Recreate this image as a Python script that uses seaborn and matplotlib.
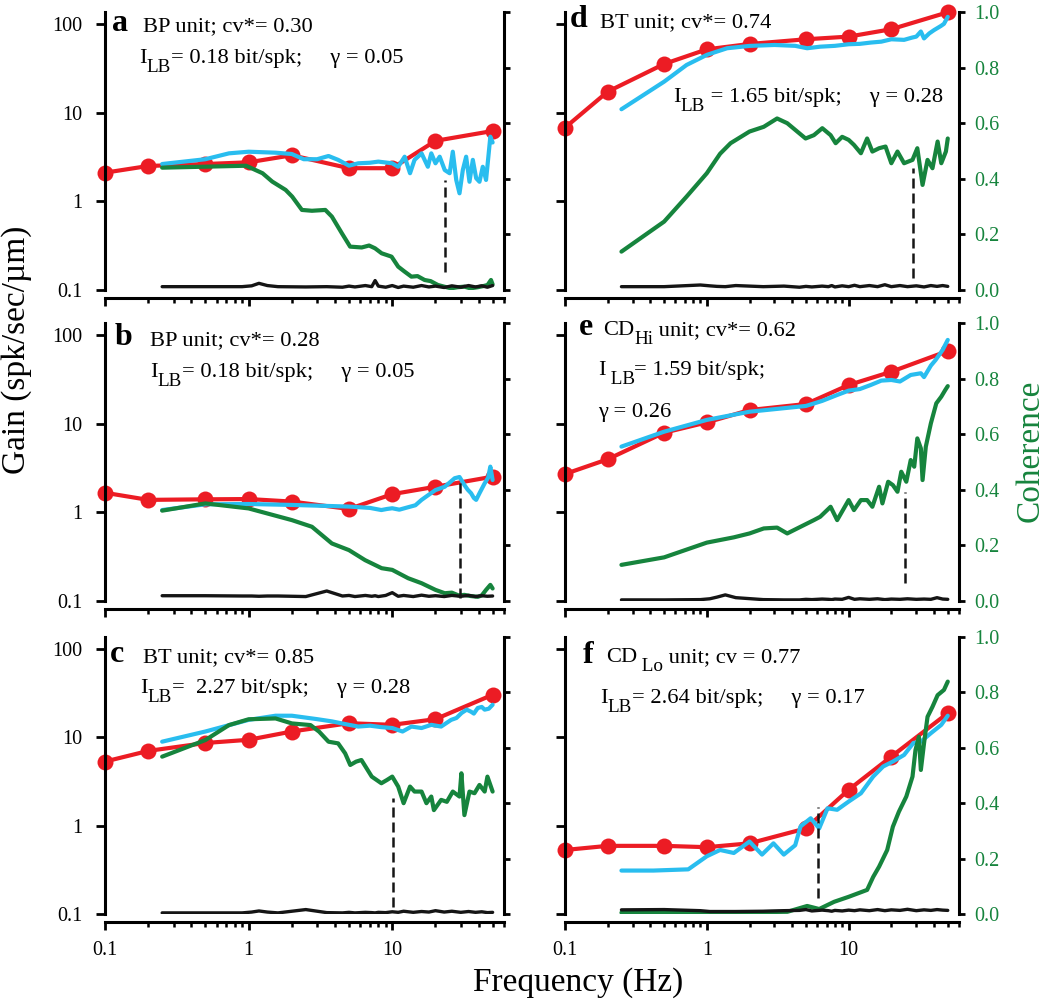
import matplotlib.pyplot as plt
import seaborn as sns
from matplotlib.ticker import FixedLocator, FuncFormatter, LogLocator, NullFormatter, NullLocator

# === DATA ===
GAIN_FREQ = [0.1, 0.2, 0.5, 1, 2, 5, 10, 20, 50]
BLACK_FREQ = [0.25, 0.5, 0.9, 1.05, 1.18, 1.35, 1.6, 2.5, 3.5, 4.5,
              5.0, 5.5, 6.5, 7.2, 7.6, 8.0, 9.0, 10.0, 11.0, 12.0,
              14.0, 16.0, 18.0, 20.0, 23.0, 26.0, 30.0, 34.0, 38.0, 42.0,
              46.0, 50.0]

# panel a
RED_A = [2.1, 2.5, 2.63, 2.75, 3.3, 2.36, 2.36, 4.8, 6.2]
CYAN_A_F = [0.25, 0.5, 0.73, 1.0, 1.54, 2.0, 2.42, 3.0, 3.6, 4.2,
            5.0, 5.8, 7.0, 8.0, 10.0, 11.0, 12.2, 13.3, 14.3, 16.0,
            17.7, 18.7, 20.0, 21.4, 23.2, 25.1, 26.4, 27.9, 29.4, 31.0,
            32.7, 34.5, 36.4, 38.4, 40.5, 42.7, 45.0, 46.7, 48.2, 50.0]
CYAN_A = [2.63, 2.98, 3.47, 3.62, 3.53, 3.41, 2.98, 2.98, 3.24, 2.93,
          2.52, 2.68, 2.72, 2.8, 2.68, 2.45, 3.18, 2.07, 2.93, 3.47,
          2.45, 3.47, 2.68, 3.18, 2.25, 2.07, 3.62, 1.74, 1.23, 2.25,
          3.18, 1.66, 2.93, 1.82, 1.66, 2.45, 1.74, 3.18, 5.35, 4.6]
GREEN_A_F = [0.25, 0.96, 1.25, 1.46, 1.81, 2.01, 2.35, 2.76, 3.42, 3.8,
             4.46, 5.09, 6.13, 6.9, 7.59, 8.44, 9.89, 11.0, 12.2, 13.6,
             15.0, 16.8, 18.5, 20.8, 23.0, 25.7, 28.5, 31.8, 35.0, 39.4,
             43.0, 46.1, 48.7, 50.0]
GREEN_A = [0.44, 0.447, 0.42, 0.39, 0.36, 0.336, 0.288, 0.285, 0.288, 0.264,
           0.204, 0.156, 0.153, 0.16, 0.15, 0.132, 0.12, 0.084, 0.066, 0.048,
           0.05, 0.036, 0.032, 0.018, 0.012, 0.006, 0.01, 0.012, 0.006, 0.01,
           0.014, 0.018, 0.036, 0.02]
BLACK_A = [0.012, 0.012, 0.012, 0.015, 0.024, 0.016, 0.012, 0.011, 0.012, 0.010,
           0.014, 0.011, 0.016, 0.012, 0.034, 0.014, 0.010, 0.016, 0.009, 0.014,
           0.010, 0.016, 0.011, 0.014, 0.009, 0.015, 0.010, 0.016, 0.011, 0.015,
           0.010, 0.016]
CUT_A = (23.2, 0.066, 0.396)

# panel b
RED_B = [1.66, 1.38, 1.40, 1.41, 1.32, 1.09, 1.60, 1.94, 2.52]
CYAN_B_F = [0.25, 0.5, 1.0, 2.0, 5.0, 7.0, 8.4, 9.2, 10.0, 11.2,
            12.9, 14.5, 16.0, 18.0, 20.0, 23.2, 25.0, 27.2, 29.4, 31.8,
            33.5, 35.4, 37.0, 38.4, 40.5, 44.0, 46.5, 48.2, 50.0]
CYAN_B = [1.06, 1.23, 1.24, 1.21, 1.16, 1.12, 1.06, 1.09, 1.11, 1.07,
          1.14, 1.2, 1.38, 1.58, 1.78, 1.94, 2.15, 2.42, 2.5, 2.03,
          1.8, 1.64, 1.45, 1.38, 1.64, 2.12, 2.45, 3.27, 2.31]
GREEN_B_F = [0.25, 0.5, 1.0, 2.0, 2.76, 3.8, 5.0, 6.47, 8.44, 10.0,
             12.9, 16.0, 20.0, 23.2, 26.0, 29.0, 31.8, 35.0, 39.4, 42.0,
             45.0, 48.2, 50.0]
GREEN_B = [0.325, 0.351, 0.333, 0.291, 0.267, 0.207, 0.183, 0.147, 0.118, 0.112,
           0.082, 0.064, 0.04, 0.028, 0.03, 0.02, 0.022, 0.018, 0.015, 0.02,
           0.04, 0.058, 0.045]
BLACK_B = [0.019, 0.019, 0.018, 0.018, 0.017, 0.018, 0.018, 0.016, 0.036, 0.018,
           0.02, 0.016, 0.02, 0.017, 0.019, 0.016, 0.02, 0.03, 0.017, 0.02,
           0.016, 0.021, 0.017, 0.019, 0.016, 0.02, 0.017, 0.02, 0.016, 0.019,
           0.017, 0.018]
CUT_B = (29.4, 0.011, 0.43)

# panel c
RED_C = [5.3, 7.0, 8.6, 9.35, 11.6, 14.4, 13.8, 16.0, 30.2]
CYAN_C_F = [0.25, 0.5, 1.0, 1.54, 2.0, 3.0, 3.8, 5.0, 5.8, 7.0,
            8.4, 10.0, 11.8, 13.6, 16.0, 18.7, 21.9, 25.7, 28.0, 30.4,
            33.0, 35.4, 37.0, 39.4, 42.0, 44.0, 47.0, 50.0]
CYAN_C = [8.9, 11.6, 15.7, 17.5, 17.5, 16.0, 15.1, 13.8, 13.2, 13.5,
          13.0, 12.7, 11.6, 13.2, 12.7, 13.8, 13.2, 15.7, 16.5, 18.8,
          20.5, 19.4, 18.5, 21.4, 22.0, 20.5, 21.0, 23.3]
GREEN_C_F = [0.25, 0.5, 0.73, 1.0, 1.54, 2.0, 2.7, 3.1, 3.6, 4.2,
             4.7, 5.1, 5.6, 6.1, 7.2, 8.4, 9.2, 10.0, 11.0, 12.0,
             13.3, 14.3, 16.0, 17.3, 18.7, 19.5, 21.9, 24.0, 26.4, 29.4,
             30.3, 31.8, 34.5, 37.4, 40.5, 44.0, 46.0, 50.0]
GREEN_C = [0.568, 0.628, 0.682, 0.703, 0.706, 0.688, 0.682, 0.658, 0.622, 0.616,
           0.58, 0.538, 0.55, 0.556, 0.496, 0.472, 0.484, 0.496, 0.46, 0.4,
           0.46, 0.442, 0.442, 0.4, 0.424, 0.375, 0.412, 0.405, 0.442, 0.424,
           0.508, 0.357, 0.442, 0.436, 0.466, 0.442, 0.496, 0.442]
BLACK_C = [0.004, 0.004, 0.004, 0.007, 0.011, 0.007, 0.004, 0.016, 0.005, 0.004,
           0.006, 0.004, 0.006, 0.005, 0.004, 0.006, 0.005, 0.008, 0.006, 0.01,
           0.006, 0.009, 0.007, 0.012, 0.007, 0.01, 0.006, 0.009, 0.006, 0.008,
           0.005, 0.006]
CUT_C = (10.2, 0.026, 0.418)

# panel d
RED_D = [6.76, 17.2, 35.3, 51.6, 59.3, 67.0, 71.8, 87.0, 135.0]
CYAN_D_F = [0.25, 0.5, 0.72, 1.0, 1.39, 2.0, 3.0, 4.2, 5.1, 6.3,
            8.0, 10.0, 12.0, 14.3, 17.0, 20.0, 24.6, 28.0, 30.0, 32.3,
            34.0, 37.0, 40.0, 44.7, 47.0, 50.0]
CYAN_D = [10.9, 22.3, 34.4, 44.7, 53.1, 56.4, 57.8, 56.5, 53.1, 55.3,
          56.5, 58.9, 59.5, 61.5, 63.0, 67.0, 66.0, 70.0, 71.8, 82.0,
          68.5, 78.0, 85.0, 94.6, 100.0, 120.0]
GREEN_D_F = [0.25, 0.5, 0.72, 1.0, 1.24, 1.47, 2.0, 2.52, 3.13, 3.69,
             4.34, 4.97, 5.69, 6.52, 7.46, 8.1, 9.0, 10.0, 10.9, 12.2,
             13.5, 14.7, 16.4, 18.2, 20.0, 22.1, 24.6, 28.2, 30.5, 33.2,
             36.0, 39.0, 42.4, 45.0, 48.5, 50.0]
GREEN_D = [0.138, 0.246, 0.336, 0.42, 0.49, 0.528, 0.57, 0.587, 0.617, 0.6,
           0.57, 0.545, 0.557, 0.582, 0.557, 0.528, 0.551, 0.54, 0.522, 0.492,
           0.545, 0.498, 0.51, 0.516, 0.456, 0.498, 0.456, 0.468, 0.51, 0.378,
           0.468, 0.438, 0.534, 0.456, 0.498, 0.545]
BLACK_D = [0.012, 0.012, 0.018, 0.015, 0.013, 0.012, 0.016, 0.012, 0.014, 0.010,
           0.013, 0.011, 0.014, 0.012, 0.016, 0.011, 0.015, 0.012, 0.017, 0.012,
           0.016, 0.012, 0.019, 0.012, 0.016, 0.012, 0.015, 0.011, 0.016, 0.013,
           0.016, 0.013]
CUT_D = (28.6, 0.043, 0.44)

# panel e
RED_E = [2.70, 3.96, 7.89, 10.3, 14.2, 16.6, 27.2, 38.4, 65.8]
CYAN_E_F = [0.25, 0.5, 1.0, 2.0, 5.0, 6.5, 8.3, 10.0, 12.0, 14.3,
            17.0, 20.0, 23.0, 27.4, 32.3, 34.0, 38.0, 41.0, 46.0, 50.0]
CYAN_E = [5.5, 8.1, 11.0, 13.6, 15.8, 18.0, 21.0, 23.5, 24.5, 27.2,
          30.5, 31.0, 29.8, 35.3, 36.9, 33.4, 45.0, 52.0, 67.6, 87.7]
GREEN_E_F = [0.25, 0.5, 1.0, 1.55, 2.0, 2.52, 3.13, 3.69, 4.58, 5.69,
             6.3, 7.46, 8.3, 10.0, 10.9, 12.2, 13.5, 14.7, 16.4, 17.3,
             19.0, 20.5, 22.1, 23.5, 25.5, 27.4, 29.0, 30.5, 32.3, 33.2,
             35.0, 38.0, 41.5, 45.0, 48.0, 50.0]
GREEN_E = [0.13, 0.157, 0.21, 0.229, 0.243, 0.261, 0.264, 0.243, 0.267, 0.291,
           0.303, 0.339, 0.291, 0.363, 0.327, 0.363, 0.363, 0.339, 0.411, 0.351,
           0.429, 0.417, 0.393, 0.465, 0.429, 0.507, 0.483, 0.585, 0.549, 0.435,
           0.555, 0.639, 0.711, 0.735, 0.759, 0.773]
BLACK_E = [0.004, 0.004, 0.005, 0.008, 0.014, 0.022, 0.012, 0.005, 0.004, 0.004,
           0.006, 0.005, 0.007, 0.006, 0.005, 0.007, 0.006, 0.013, 0.006, 0.008,
           0.006, 0.008, 0.005, 0.007, 0.006, 0.008, 0.006, 0.007, 0.006, 0.012,
           0.007, 0.006]
CUT_E = (24.9, 0.064, 0.393)

# panel f
RED_F = [0.53, 0.59, 0.59, 0.57, 0.63, 0.93, 2.54, 6.04, 18.7]
CYAN_F_F = [0.25, 0.42, 0.74, 1.0, 1.24, 1.55, 2.0, 2.45, 2.95, 3.49,
            4.2, 4.58, 5.4, 6.2, 7.1, 8.3, 10.0, 12.2, 14.9, 17.5,
            20.5, 24.6, 28.6, 32.3, 38.0, 45.0, 50.0]
CYAN_F = [0.31, 0.31, 0.32, 0.45, 0.53, 0.49, 0.66, 0.47, 0.63, 0.47,
          0.6, 0.98, 1.21, 0.93, 1.57, 1.51, 1.87, 2.32, 3.59, 4.66,
          5.3, 6.3, 8.6, 8.9, 11.1, 13.8, 17.5]
GREEN_F_F = [0.25, 1.24, 3.7, 5.1, 6.2, 7.9, 10.0, 13.5, 14.9, 16.4,
             18.7, 20.5, 22.6, 25.5, 28.2, 29.6, 31.3, 32.3, 34.0, 36.0,
             39.0, 42.4, 47.0, 50.0]
GREEN_F = [0.005, 0.005, 0.008, 0.029, 0.018, 0.044, 0.062, 0.087, 0.134, 0.171,
           0.231, 0.315, 0.369, 0.424, 0.496, 0.592, 0.64, 0.52, 0.616, 0.712,
           0.748, 0.79, 0.809, 0.839]
BLACK_F = [0.015, 0.016, 0.012, 0.009, 0.009, 0.009, 0.009, 0.010, 0.012, 0.013,
           0.016, 0.011, 0.014, 0.012, 0.010, 0.013, 0.011, 0.014, 0.012, 0.015,
           0.012, 0.016, 0.012, 0.015, 0.013, 0.017, 0.012, 0.015, 0.013, 0.016,
           0.014, 0.013]
CUT_F = (6.1, 0.057, 0.387)

PANELS = [
    dict(key="a", col=0, row=0, red=RED_A, cyan=(CYAN_A_F, CYAN_A), green=(GREEN_A_F, GREEN_A), black=BLACK_A, cut=CUT_A),
    dict(key="b", col=0, row=1, red=RED_B, cyan=(CYAN_B_F, CYAN_B), green=(GREEN_B_F, GREEN_B), black=BLACK_B, cut=CUT_B),
    dict(key="c", col=0, row=2, red=RED_C, cyan=(CYAN_C_F, CYAN_C), green=(GREEN_C_F, GREEN_C), black=BLACK_C, cut=CUT_C),
    dict(key="d", col=1, row=0, red=RED_D, cyan=(CYAN_D_F, CYAN_D), green=(GREEN_D_F, GREEN_D), black=BLACK_D, cut=CUT_D),
    dict(key="e", col=1, row=1, red=RED_E, cyan=(CYAN_E_F, CYAN_E), green=(GREEN_E_F, GREEN_E), black=BLACK_E, cut=CUT_E),
    dict(key="f", col=1, row=2, red=RED_F, cyan=(CYAN_F_F, CYAN_F), green=(GREEN_F_F, GREEN_F), black=BLACK_F, cut=CUT_F),
]

# annotations: (letter position, [(x, y, [(text, is_subscript), ...]), ...]) in pixels
PANEL_TEXT = {
    "a": ((112, 31), [(143, 31, [("BP unit; cv*= 0.30", 0)]),
                      (139, 63, [("I", 0), ("LB", 1), ("= 0.18 bit/spk;     γ = 0.05", 0)])]),
    "b": ((115, 345), [(150, 345, [("BP unit; cv*= 0.28", 0)]),
                       (150, 377, [("I", 0), ("LB", 1), ("= 0.18 bit/spk;     γ = 0.05", 0)])]),
    "c": ((110, 662), [(143, 662, [("BT unit; cv*= 0.85", 0)]),
                       (140, 693, [("I", 0), ("LB", 1), ("=  2.27 bit/spk;     γ = 0.28", 0)])]),
    "d": ((570, 27), [(600, 27, [("BT unit; cv*= 0.74", 0)]),
                      (673, 102, [("I", 0), ("LB", 1), (" = 1.65 bit/spk;     γ = 0.28", 0)])]),
    "e": ((579, 335), [(603, 335, [("CD", 0), ("Hi", 1), (" unit; cv*= 0.62", 0)]),
                       (598, 375, [("I", 0), (" LB", 1), ("= 1.59 bit/spk;", 0)]),
                       (598, 417, [("γ = 0.26", 0)])]),
    "f": ((583, 663), [(606, 662, [("CD", 0), (" Lo", 1), (" unit; cv = 0.77", 0)]),
                       (600, 703, [("I", 0), ("LB", 1), ("= 2.64 bit/spk;     γ = 0.17", 0)])]),
}

# === STYLE ===
sns.set_style("ticks")
plt.rcParams["font.family"] = ["Liberation Serif", "DejaVu Serif"]
plt.rcParams["axes.edgecolor"] = "black"
plt.rcParams["xtick.color"] = "black"
plt.rcParams["ytick.color"] = "black"
plt.rcParams["text.color"] = "black"

RED = "#ec1c24"
CYAN = "#29bdef"
GREEN = "#16843d"
BLACK = "#151515"

W, H = 1050, 1002
COL_PX = [(105, 504), (565, 959)]
ROW_PX = [(12, 290), (323, 601), (637, 914)]

fig = plt.figure(figsize=(W / 100, H / 100), dpi=100)


def fx(px):
    return px / W


def fy(py):
    return 1 - py / H


def rich_text(ax, px, py, parts, size=16.2):
    base = ax.text(fx(px), fy(py), parts[0][0], transform=fig.transFigure,
                   fontsize=size, va="baseline", ha="left")
    prev = base
    for s, sub in parts[1:]:
        prev = ax.annotate(s, xy=(1, 0), xycoords=(prev, base),
                           xytext=(0, -5.5 if sub else 0), textcoords="offset points",
                           fontsize=13.8 if sub else size, va="bottom", ha="left",
                           annotation_clip=False)


# === PANELE ===
for p in PANELS:
    c, r = p["col"], p["row"]
    x0, x1 = COL_PX[c]
    y0, y1 = ROW_PX[r]
    ax = fig.add_axes([fx(x0), fy(y1), (x1 - x0) / W, (y1 - y0) / H])
    ax.set_xscale("log")
    ax.set_yscale("log")
    ax2 = ax.twinx()

    sns.lineplot(x=GAIN_FREQ, y=p["red"], ax=ax, color=RED, linewidth=3, marker="o",
                 markersize=11.5, markeredgewidth=0, estimator=None, sort=False,
                 clip_on=False, zorder=2)
    sns.lineplot(x=p["cyan"][0], y=p["cyan"][1], ax=ax, color=CYAN, linewidth=3,
                 estimator=None, sort=False, zorder=3)
    sns.lineplot(x=p["green"][0], y=p["green"][1], ax=ax2, color=GREEN, linewidth=3,
                 estimator=None, sort=False)
    sns.lineplot(x=BLACK_FREQ, y=p["black"], ax=ax2, color=BLACK, linewidth=2.4,
                 estimator=None, sort=False)
    f, lo, hi = p["cut"]
    ax2.vlines(f, lo, hi, colors=BLACK, linestyles=(0, (4, 2)), linewidth=1.8)

    ax.set_xlim(0.1, 60)
    ax.set_ylim(0.1, 136)
    ax2.set_ylim(0, 1)
    for a in (ax, ax2):
        a.set_xlabel("")
        a.set_ylabel("")

    # spines
    for s in ("top", "right"):
        ax.spines[s].set_visible(False)
    for s in ("top", "left", "bottom"):
        ax2.spines[s].set_visible(False)
    ax.spines["bottom"].set_position(("outward", 6))
    for s in (ax.spines["left"], ax.spines["bottom"], ax2.spines["right"]):
        s.set_linewidth(2.2)

    # ticks
    ax.yaxis.set_major_locator(FixedLocator([0.1, 1, 10, 100]))
    ax.yaxis.set_minor_locator(NullLocator())
    ax.yaxis.set_major_formatter(FuncFormatter(lambda v, pos: f"{v:g}"))
    ax.xaxis.set_major_locator(FixedLocator([0.1, 1, 10]))
    ax.xaxis.set_minor_locator(LogLocator(base=10, subs=[2, 3, 4, 5, 6, 7, 8, 9], numticks=20))
    ax.xaxis.set_major_formatter(FuncFormatter(lambda v, pos: f"{v:g}"))
    ax.xaxis.set_minor_formatter(NullFormatter())
    ax.tick_params(axis="y", which="major", direction="out", length=6.5, width=2,
                   pad=10, labelsize=14.5, left=True, right=False, labelleft=(c == 0))
    ax.tick_params(axis="x", which="major", direction="out", length=5.5, width=2,
                   pad=8, labelsize=14.5, top=False, labelbottom=(r == 2))
    ax.tick_params(axis="x", which="minor", direction="out", length=3.5, width=1.8, top=False)

    ax2.yaxis.set_major_locator(FixedLocator([0, 0.2, 0.4, 0.6, 0.8, 1.0]))
    ax2.yaxis.set_minor_locator(NullLocator())
    ax2.yaxis.set_major_formatter(FuncFormatter(lambda v, pos: f"{v:.1f}"))
    ax2.tick_params(axis="y", which="major", direction="out", length=4.2, width=2,
                    pad=7, labelsize=14.5, labelcolor=GREEN, right=True, left=False,
                    labelright=(c == 1), labelleft=False)

    # texts
    (lx, ly), lines = PANEL_TEXT[p["key"]]
    ax.text(fx(lx), fy(ly), p["key"], transform=fig.transFigure, fontsize=23,
            fontweight="bold", va="baseline", ha="left")
    for px, py, parts in lines:
        rich_text(ax, px, py, parts)

# === AXIS LABELS ===
fig.text(fx(17), fy(350), "Gain (spk/sec/µm)", rotation=90, va="center", ha="center", fontsize=24)
fig.text(fx(1030), fy(451), "Coherence", rotation=90, va="center", ha="center", fontsize=24, color=GREEN)
fig.text(fx(578), fy(991), "Frequency (Hz)", ha="center", va="baseline", fontsize=24)

fig.savefig("out.png", dpi=100)
plt.close(fig)
